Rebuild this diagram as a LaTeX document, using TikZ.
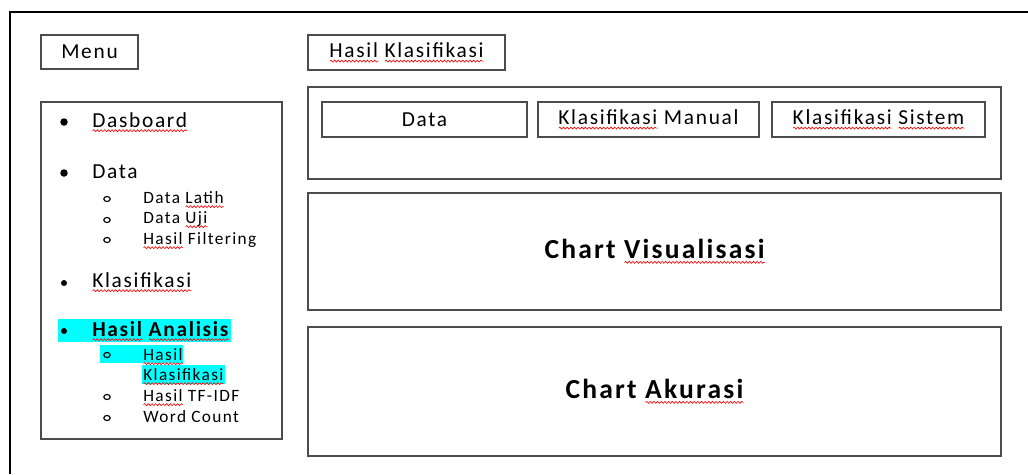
\documentclass[tikz,border=0pt]{standalone}
\usepackage{fontspec}
\setmainfont{Carlito}[LetterSpace=8]
\usetikzlibrary{decorations.pathmorphing,shapes.geometric}
\definecolor{hilite}{RGB}{0,255,255}
\newlength\typowd
\newcommand\typo[1]{\settowidth\typowd{#1}\rlap{\tikz[baseline=0pt, x=1pt, y=1pt]
  \draw[red, line width=0.45pt, decorate, decoration={snake, segment length=2.6pt, amplitude=0.7pt}]
  (0,-2.6) -- (\typowd,-2.6);}#1}
\tikzset{
  box/.style 2 args={draw=black!70, line width=1.2pt, inner sep=0pt,
    minimum width=#1*0.25mm, minimum height=#2*0.25mm,
    font=\fontsize{15.2}{17}\selectfont},
  chart/.style={font=\fontsize{19.6}{22}\selectfont\bfseries},
  item/.style={anchor=base west, inner sep=0pt, font=\fontsize{15.2}{17}\selectfont},
  subitem/.style={anchor=base west, inner sep=0pt, font=\fontsize{12.3}{14}\selectfont},
  dot/.style={circle, fill, inner sep=0pt, minimum size=7.5*0.25mm},
  ring/.style={ellipse, draw, line width=0.8pt, inner sep=0pt,
    minimum width=6.5*0.25mm, minimum height=5*0.25mm}
}
\begin{document}
\begin{tikzpicture}[x=0.25mm,y=-0.25mm]
  \useasboundingbox (0,0) rectangle (1028,474);
  \draw[line width=2pt] (1028,12) -- (10,12) -- (10,474);
  \node[box={97}{34}] (menu) at (89.5,52) {Menu};
  \node[box={241}{337}] (menulist) at (161.5,270.5) {};
  \node[box={197}{35}] (tab) at (406.5,52.5) {\typo{Hasil} \typo{Klasifikasi}};
  \node[box={693}{92}] (panel) at (654.5,133) {};
  \node[box={205}{35}] (data) at (424.5,119.5) {Data};
  \node[box={221}{35}] (manual) at (648.5,119.5) {\typo{Klasifikasi} Manual};
  \node[box={213}{35}] (sistem) at (878.5,119.5) {\typo{Klasifikasi} \typo{Sistem}};
  \node[box={693}{117}, chart] (visual) at (654.5,251.5) {\raisebox{-1.2mm}{Chart \typo{Visualisasi}}};
  \node[box={693}{129}, chart] (akurasi) at (654.5,391.5) {\raisebox{-1.8mm}{Chart \typo{Akurasi}}};
  \fill[hilite] (58,319) rectangle (231,342);
  \fill[hilite] (100,345) rectangle (183,363);
  \fill[hilite] (142,365) rectangle (225,384);
  \node[dot] (b1) at (64,122) {};
  \node[dot] (b2) at (64,173) {};
  \node[dot, minimum size=6*0.25mm] (b3) at (64,283) {};
  \node[dot, minimum size=6*0.25mm] (b4) at (64,331) {};
  \node[ring] (c1) at (107,199) {};
  \node[ring] (c2) at (107,220) {};
  \node[ring] (c3) at (107,240) {};
  \node[ring] (c4) at (107,355) {};
  \node[ring] (c5) at (107,397) {};
  \node[ring] (c6) at (107,418) {};
  \node[item] (dasboard) at (92,127) {\typo{Dasboard}};
  \node[item] (datamenu) at (92,178) {Data};
  \node[subitem] (latih) at (143,203) {Data \typo{Latih}};
  \node[subitem] (uji) at (143,223) {Data \typo{Uji}};
  \node[subitem] (filter) at (143,244) {\typo{Hasil} Filtering};
  \node[item] (klas) at (92,287) {\typo{Klasifikasi}};
  \node[item, font=\fontsize{15.2}{17}\selectfont\bfseries] (analisis) at (92,336) {\typo{Hasil} \typo{Analisis}};
  \node[subitem] (hasil) at (143,360) {\typo{Hasil}};
  \node[subitem] (hasilklas) at (143,380) {\typo{Klasifikasi}};
  \node[subitem] (tfidf) at (143,401) {\typo{Hasil} TF-IDF};
  \node[subitem] (word) at (143,422) {Word Count};
\end{tikzpicture}
\end{document}
